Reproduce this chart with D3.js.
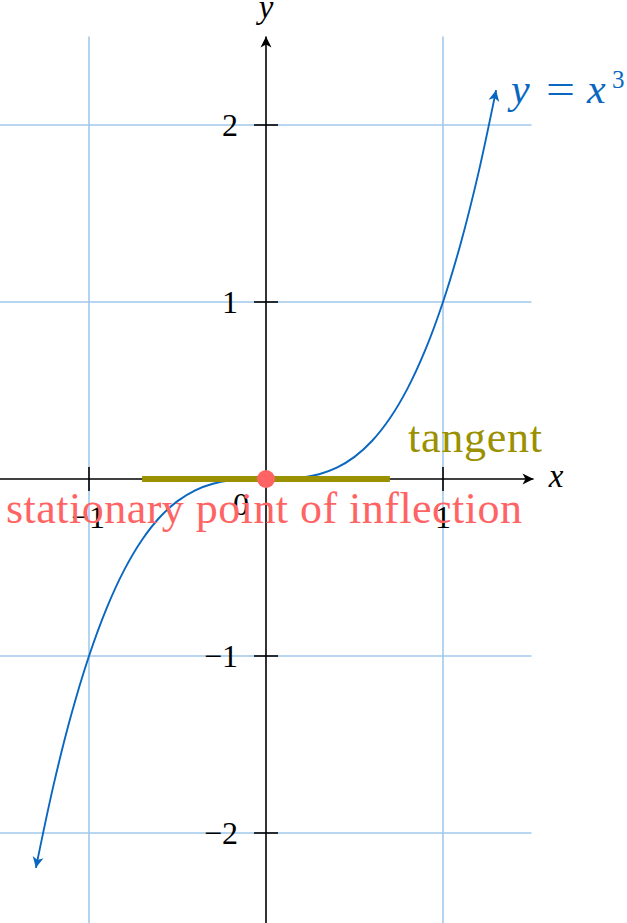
<!DOCTYPE html>
<html>
<head>
<meta charset="utf-8">
<script src="https://cdn.jsdelivr.net/npm/d3@7.9.0/dist/d3.min.js"></script>
<style>
  html, body { margin: 0; padding: 0; background: #fff; }
  svg { display: block; }
  text { font-family: "Liberation Serif", "Times New Roman", serif; }
</style>
</head>
<body>
<div id="chart"></div>
<script>
// values
const xGrid = [-1, 1];
const yGrid = [-2, -1, 1, 2];
const xTicks = [-1, 1];
const yTicks = [-2, -1, 1, 2];
const tickLabel = (d) => (d < 0 ? '\u2212' + Math.abs(d) : String(d));

// points of y = x^3, listed
const curvePts = [
  [-1.3, -2.197], [-1.2, -1.728], [-1.1, -1.331], [-1.0, -1.0], [-0.9, -0.729],
  [-0.8, -0.512], [-0.7, -0.343], [-0.6, -0.216], [-0.5, -0.125], [-0.4, -0.064],
  [-0.3, -0.027], [-0.2, -0.008], [-0.1, -0.001], [0, 0], [0.1, 0.001],
  [0.2, 0.008], [0.3, 0.027], [0.4, 0.064], [0.5, 0.125], [0.6, 0.216],
  [0.7, 0.343], [0.8, 0.512], [0.9, 0.729], [1.0, 1.0], [1.1, 1.331],
  [1.2, 1.728], [1.3, 2.197]
];
const tangentPts = [[-0.7, 0], [0.7, 0]];
const inflection = [0, 0];

const width = 627, height = 923;
const gridColor = '#a2c9ec';
const curveColor = '#0a67c0';
const olive = '#9a9000';
const red = '#ff6464';

const x = d3.scaleLinear().domain([-1.5, 1.5]).range([0.5, 531.5]);
const y = d3.scaleLinear().domain([-2.5, 2.5]).range([921.5, 36.5]);

const svg = d3.select('#chart').append('svg')
  .attr('width', width).attr('height', height);

// arrowheads
const defs = svg.append('defs');
function marker(id, color) {
  defs.append('marker')
    .attr('id', id)
    .attr('viewBox', '-12 -7 14 14')
    .attr('refX', 0).attr('refY', 0)
    .attr('markerWidth', 14).attr('markerHeight', 14)
    .attr('markerUnits', 'userSpaceOnUse')
    .attr('orient', 'auto-start-reverse')
    .append('path')
    .attr('d', 'M0,0 L-11,-5.5 L-8,0 L-11,5.5 Z')
    .attr('fill', color);
}
marker('arrBlack', '#000');
marker('arrBlue', curveColor);

// grid
svg.append('g').selectAll('line').data(xGrid).join('line')
  .attr('x1', (d) => x(d)).attr('x2', (d) => x(d))
  .attr('y1', y(2.5)).attr('y2', height)
  .attr('stroke', gridColor).attr('stroke-width', 1.6);
svg.append('g').selectAll('line').data(yGrid).join('line')
  .attr('x1', 0).attr('x2', x(1.5))
  .attr('y1', (d) => y(d)).attr('y2', (d) => y(d))
  .attr('stroke', gridColor).attr('stroke-width', 1.6);

// axes
svg.append('line')
  .attr('x1', 0).attr('x2', x(1.5) + 2)
  .attr('y1', y(0)).attr('y2', y(0))
  .attr('stroke', '#000').attr('stroke-width', 1.6)
  .attr('marker-end', 'url(#arrBlack)');
svg.append('line')
  .attr('x1', x(0)).attr('x2', x(0))
  .attr('y1', height).attr('y2', y(2.5))
  .attr('stroke', '#000').attr('stroke-width', 1.6)
  .attr('marker-end', 'url(#arrBlack)');

// ticks (crossing)
svg.append('g').selectAll('line').data(xTicks).join('line')
  .attr('x1', (d) => x(d)).attr('x2', (d) => x(d))
  .attr('y1', y(0) - 12).attr('y2', y(0) + 12)
  .attr('stroke', '#000').attr('stroke-width', 1.6);
svg.append('g').selectAll('line').data(yTicks).join('line')
  .attr('x1', x(0) - 12).attr('x2', x(0) + 12)
  .attr('y1', (d) => y(d)).attr('y2', (d) => y(d))
  .attr('stroke', '#000').attr('stroke-width', 1.6);

// tick labels
svg.append('g').selectAll('text').data(xTicks).join('text')
  .attr('x', (d) => x(d) + (d < 0 ? -1 : 0)).attr('y', y(0) + 49)
  .attr('text-anchor', 'middle')
  .attr('font-size', 32)
  .text(tickLabel);
svg.append('g').selectAll('text').data(yTicks).join('text')
  .attr('x', x(0) - 28).attr('y', (d) => y(d) + 11)
  .attr('text-anchor', 'end')
  .attr('font-size', 32)
  .text(tickLabel);
svg.append('text')
  .attr('x', x(0) - 25).attr('y', y(0) + 36)
  .attr('text-anchor', 'middle')
  .attr('font-size', 32)
  .text('0');

// axis labels
svg.append('text')
  .attr('x', 556).attr('y', y(0) + 8)
  .attr('font-size', 33).attr('font-style', 'italic')
  .attr('text-anchor', 'middle')
  .text('x');
svg.append('text')
  .attr('x', x(0)).attr('y', 18)
  .attr('font-size', 33).attr('font-style', 'italic')
  .attr('text-anchor', 'middle')
  .text('y');

// curve
const line = d3.line().x((d) => x(d[0])).y((d) => y(d[1])).curve(d3.curveCatmullRom);
svg.append('path')
  .datum(curvePts)
  .attr('d', line)
  .attr('fill', 'none')
  .attr('stroke', curveColor)
  .attr('stroke-width', 1.9)
  .attr('marker-start', 'url(#arrBlue)')
  .attr('marker-end', 'url(#arrBlue)');

// tangent
svg.append('path')
  .datum(tangentPts)
  .attr('d', d3.line().x((d) => x(d[0])).y((d) => y(d[1])))
  .attr('stroke', olive)
  .attr('stroke-width', 6);

// stationary point
svg.append('circle')
  .attr('cx', x(inflection[0])).attr('cy', y(inflection[1]))
  .attr('r', 9)
  .attr('fill', red);

// annotations
const fLabel = svg.append('text')
  .attr('y', 103)
  .attr('font-size', 42)
  .attr('fill', curveColor);
fLabel.append('tspan').attr('x', 511).attr('font-style', 'italic').text('y');
fLabel.append('tspan').attr('x', 546).attr('textLength', 29).attr('lengthAdjust', 'spacingAndGlyphs').text('=');
fLabel.append('tspan').attr('x', 587).attr('font-style', 'italic').text('x');
fLabel.append('tspan').attr('x', 612).attr('y', 88).attr('font-size', 25).text('3');

svg.append('text')
  .attr('x', 408).attr('y', 452)
  .attr('font-size', 44)
  .attr('fill', olive)
  .attr('textLength', 134).attr('lengthAdjust', 'spacing')
  .text('tangent');

svg.append('text')
  .attr('x', 6).attr('y', 523)
  .attr('font-size', 44)
  .attr('fill', red)
  .attr('textLength', 516).attr('lengthAdjust', 'spacing')
  .text('stationary point of inflection');
</script>
</body>
</html>
